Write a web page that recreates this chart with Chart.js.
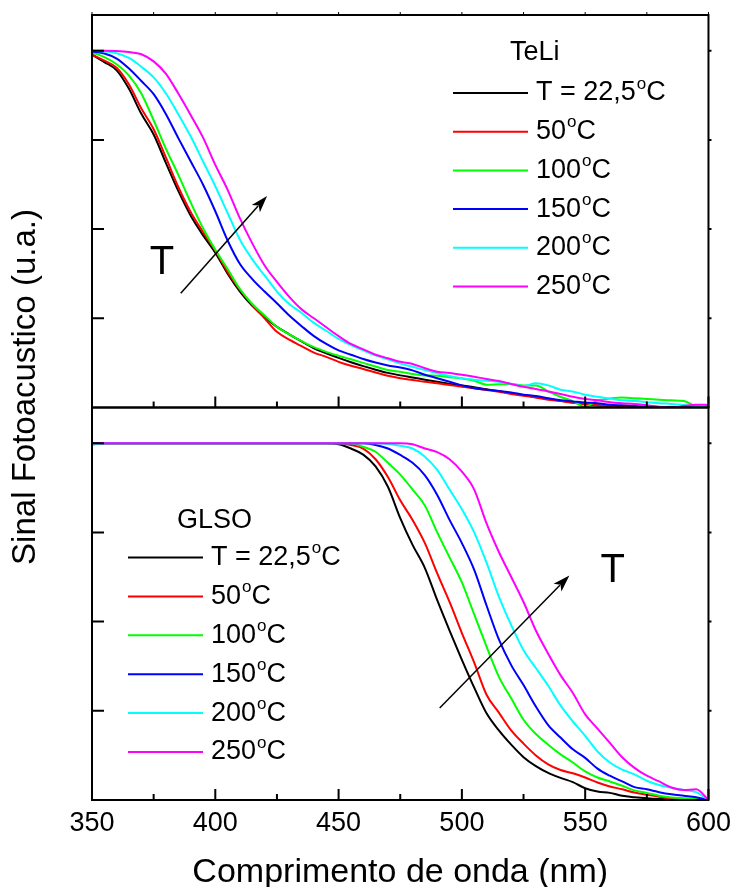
<!DOCTYPE html>
<html lang="pt">
<head>
  <meta charset="UTF-8">
  <title>Sinal Fotoacustico - TeLi / GLSO</title>
  <style>
    body {
      margin: 0;
      background: #ffffff;
    }
    #wrap {
      width: 738px;
      height: 887px;
    }
  </style>
</head>
<body>
  <div id="wrap"><canvas id="chart" width="738" height="887"></canvas></div>
  <script src="https://cdn.jsdelivr.net/npm/chart.js@4"></script>
  <script>
    // wavelength grid (nm)
    const wavelength = [
      350, 355, 360, 365, 370, 375, 380, 385, 390, 395,
      400, 405, 410, 415, 420, 425, 430, 435, 440, 445,
      450, 455, 460, 465, 470, 475, 480, 485, 490, 495,
      500, 505, 510, 515, 520, 525, 530, 535, 540, 545,
      550, 555, 560, 565, 570, 575, 580, 585, 590, 595, 600
    ];

    const tempLabels = ["T = 22,5", "50", "100", "150", "200", "250"];
    const lineColors = ["#000000", "#ff0000", "#00ff00", "#0000ff", "#00ffff", "#ff00ff"];

    // TeLi (top panel)
    const teli22 = [
      0.989, 0.968, 0.945, 0.893, 0.823, 0.765, 0.685, 0.607, 0.538, 0.483,
      0.434, 0.375, 0.325, 0.285, 0.253, 0.226, 0.205, 0.185, 0.166, 0.152,
      0.139, 0.127, 0.116, 0.106, 0.097, 0.090, 0.084, 0.078, 0.072, 0.066,
      0.062, 0.057, 0.051, 0.046, 0.040, 0.035, 0.029, 0.024, 0.019, 0.014,
      0.009, 0.006, 0.004, 0.002, 0.001, 0.001, 0, 0, 0, 0, 0
    ];
    const teli50 = [
      0.989, 0.972, 0.952, 0.905, 0.838, 0.780, 0.700, 0.618, 0.548, 0.492,
      0.440, 0.380, 0.330, 0.288, 0.250, 0.212, 0.190, 0.172, 0.154, 0.142,
      0.128, 0.117, 0.108, 0.098, 0.089, 0.082, 0.077, 0.072, 0.068, 0.063,
      0.058, 0.054, 0.049, 0.044, 0.038, 0.033, 0.028, 0.022, 0.018, 0.013,
      0.009, 0.006, 0.004, 0.003, 0.002, 0.002, 0.001, 0.001, 0, 0, 0.002
    ];
    const teli100 = [
      0.995, 0.982, 0.962, 0.930, 0.880, 0.805, 0.725, 0.652, 0.575, 0.503,
      0.442, 0.388, 0.332, 0.290, 0.258, 0.226, 0.205, 0.186, 0.169, 0.156,
      0.145, 0.135, 0.125, 0.115, 0.105, 0.100, 0.094, 0.090, 0.089, 0.085,
      0.081, 0.075, 0.064, 0.065, 0.066, 0.062, 0.062, 0.045, 0.030, 0.018,
      0.002, 0.020, 0.025, 0.028, 0.026, 0.024, 0.022, 0.020, 0.018, 0.004, 0.002
    ];
    const teli150 = [
      0.998, 0.992, 0.978, 0.950, 0.915, 0.878, 0.822, 0.755, 0.690, 0.625,
      0.550, 0.468, 0.402, 0.360, 0.325, 0.292, 0.258, 0.228, 0.200, 0.178,
      0.160, 0.148, 0.136, 0.126, 0.118, 0.112, 0.104, 0.092, 0.082, 0.072,
      0.062, 0.054, 0.050, 0.046, 0.042, 0.036, 0.032, 0.026, 0.020, 0.017,
      0.014, 0.012, 0.008, 0.006, 0.004, 0.002, 0, 0, 0, 0, 0.002
    ];
    const teli200 = [
      1.000, 0.998, 0.993, 0.980, 0.955, 0.925, 0.880, 0.822, 0.760, 0.690,
      0.620, 0.545, 0.470, 0.415, 0.370, 0.325, 0.290, 0.265, 0.237, 0.215,
      0.192, 0.175, 0.160, 0.146, 0.135, 0.123, 0.114, 0.105, 0.096, 0.088,
      0.082, 0.078, 0.075, 0.072, 0.066, 0.060, 0.068, 0.062, 0.050, 0.045,
      0.036, 0.030, 0.025, 0.020, 0.018, 0.015, 0.012, 0.010, 0.007, 0.003, 0.002
    ];
    const teli250 = [
      1.000, 1.000, 0.999, 0.996, 0.990, 0.970, 0.935, 0.880, 0.820, 0.757,
      0.680, 0.610, 0.530, 0.460, 0.398, 0.352, 0.310, 0.275, 0.250, 0.225,
      0.200, 0.178, 0.163, 0.148, 0.138, 0.128, 0.122, 0.110, 0.100, 0.097,
      0.092, 0.086, 0.080, 0.074, 0.066, 0.058, 0.052, 0.045, 0.038, 0.030,
      0.024, 0.020, 0.015, 0.012, 0.010, 0.006, 0.002, 0, 0.004, 0.008, 0.007
    ];

    // GLSO (bottom panel)
    const glso22 = [
      1, 1, 1, 1, 1, 1, 1, 1, 1, 1,
      1, 1, 1, 1, 1, 1, 1, 1, 1, 1,
      0.997, 0.985, 0.968, 0.935, 0.878, 0.790, 0.715, 0.650, 0.560, 0.475,
      0.393, 0.315, 0.243, 0.195, 0.155, 0.120, 0.095, 0.076, 0.062, 0.050,
      0.033, 0.024, 0.020, 0.012, 0.008, 0.005, 0.003, 0.002, 0.001, 0, 0
    ];
    const glso50 = [
      1, 1, 1, 1, 1, 1, 1, 1, 1, 1,
      1, 1, 1, 1, 1, 1, 1, 1, 1, 1,
      1, 0.995, 0.985, 0.955, 0.905, 0.840, 0.785, 0.720, 0.635, 0.555,
      0.468, 0.385, 0.295, 0.245, 0.195, 0.158, 0.125, 0.100, 0.084, 0.075,
      0.063, 0.049, 0.038, 0.030, 0.021, 0.015, 0.009, 0.005, 0.003, 0.001, 0
    ];
    const glso100 = [
      1, 1, 1, 1, 1, 1, 1, 1, 1, 1,
      1, 1, 1, 1, 1, 1, 1, 1, 1, 1,
      1, 1, 0.990, 0.976, 0.945, 0.912, 0.870, 0.825, 0.750, 0.680,
      0.610, 0.520, 0.430, 0.345, 0.285, 0.225, 0.185, 0.155, 0.128, 0.105,
      0.080, 0.063, 0.052, 0.040, 0.027, 0.020, 0.012, 0.007, 0.005, 0.003, 0
    ];
    const glso150 = [
      1, 1, 1, 1, 1, 1, 1, 1, 1, 1,
      1, 1, 1, 1, 1, 1, 1, 1, 1, 1,
      1, 1, 1, 0.995, 0.985, 0.967, 0.945, 0.910, 0.855, 0.785,
      0.720, 0.645, 0.545, 0.450, 0.378, 0.322, 0.262, 0.210, 0.175, 0.142,
      0.118, 0.088, 0.068, 0.052, 0.036, 0.030, 0.022, 0.016, 0.012, 0.008, 0
    ];
    const glso200 = [
      0.995, 1, 1, 1, 1, 1, 1, 1, 1, 1,
      1, 1, 1, 1, 1, 1, 1, 1, 1, 1,
      1, 1, 1, 1, 0.998, 0.993, 0.985, 0.962, 0.925, 0.870,
      0.815, 0.750, 0.665, 0.570, 0.490, 0.420, 0.370, 0.320, 0.265, 0.220,
      0.180, 0.136, 0.105, 0.085, 0.072, 0.054, 0.042, 0.034, 0.028, 0.022, 0
    ];
    const glso250 = [
      1, 1, 1, 1, 1, 1, 1, 1, 1, 1,
      1, 1, 1, 1, 1, 1, 1, 1, 1, 1,
      1, 1, 1, 1, 1, 1, 0.997, 0.985, 0.975, 0.955,
      0.920, 0.870, 0.775, 0.695, 0.625, 0.555, 0.475, 0.410, 0.350, 0.300,
      0.240, 0.200, 0.160, 0.120, 0.090, 0.068, 0.052, 0.035, 0.028, 0.030, 0
    ];

    const teliSeries = [teli22, teli50, teli100, teli150, teli200, teli250];
    const glsoSeries = [glso22, glso50, glso100, glso150, glso200, glso250];

    // arrows and "T" marks, in data units (nm, signal)
    const notes = {
      yTop: { arrow: [386, 0.32, 421, 0.593], text: [378.4, 0.404] },
      yBot: { arrow: [491, 0.258, 543.6, 0.629], text: [561.2, 0.641] }
    };

    const fontFamily = "'Liberation Sans', Arial, sans-serif";
    Chart.defaults.font.family = fontFamily;
    Chart.defaults.color = "#000";

    function makeSets(series, axisId) {
      return series.map((vals, i) => ({
        label: tempLabels[i],
        data: wavelength.map((w, k) => ({ x: w, y: vals[k] })),
        yAxisID: axisId,
        borderColor: lineColors[i],
        backgroundColor: lineColors[i],
        borderWidth: 2,
        pointRadius: 0,
        cubicInterpolationMode: "monotone",
        order: series.length - i
      }));
    }

    function drawArrow(ctx, x1, y1, x2, y2) {
      const ang = Math.atan2(y2 - y1, x2 - x1);
      const head = 17, half = 5.5;
      ctx.beginPath();
      ctx.moveTo(x1, y1);
      ctx.lineTo(x2 - Math.cos(ang) * head * 0.8, y2 - Math.sin(ang) * head * 0.8);
      ctx.stroke();
      ctx.beginPath();
      ctx.moveTo(x2, y2);
      ctx.lineTo(x2 - Math.cos(ang) * head - Math.sin(ang) * half, y2 - Math.sin(ang) * head + Math.cos(ang) * half);
      ctx.lineTo(x2 - Math.cos(ang) * head * 0.75, y2 - Math.sin(ang) * head * 0.75);
      ctx.lineTo(x2 - Math.cos(ang) * head + Math.sin(ang) * half, y2 - Math.sin(ang) * head - Math.cos(ang) * half);
      ctx.closePath();
      ctx.fill();
    }

    function drawLegend(ctx, title, titleX, titleY, lineX, firstY, dy) {
      ctx.font = "27px " + fontFamily;
      ctx.textBaseline = "middle";
      ctx.textAlign = "left";
      ctx.fillText(title, titleX, titleY);
      tempLabels.forEach((lab, i) => {
        const y = firstY + i * dy;
        ctx.strokeStyle = lineColors[i];
        ctx.lineWidth = 2;
        ctx.beginPath();
        ctx.moveTo(lineX, y);
        ctx.lineTo(lineX + 75, y);
        ctx.stroke();
        let tx = lineX + 83;
        ctx.font = "27px " + fontFamily;
        ctx.fillText(lab, tx, y);
        tx += ctx.measureText(lab).width + 1;
        ctx.font = "17px " + fontFamily;
        ctx.fillText("o", tx, y - 9);
        tx += ctx.measureText("o").width;
        ctx.font = "27px " + fontFamily;
        ctx.fillText("C", tx, y);
      });
    }

    const panelDeco = {
      id: "panelDeco",
      afterDatasetsDraw(chart) {
        const { ctx, scales } = chart;
        const x = scales.x;
        const panels = [scales.yTop, scales.yBot];
        ctx.save();
        ctx.fillStyle = "#000";
        ctx.strokeStyle = "#000";
        ctx.lineWidth = 2;

        // frames
        panels.forEach(ys => {
          ctx.strokeRect(x.left, ys.top, x.right - x.left, ys.bottom - ys.top);
        });

        // x ticks (major + minor) pointing inward on each panel bottom
        const majors = x.ticks.map(t => t.value);
        const minors = majors.slice(0, -1).map(v => v + 25);
        panels.forEach(ys => {
          ctx.beginPath();
          majors.forEach(v => {
            const px = x.getPixelForValue(v);
            ctx.moveTo(px, ys.bottom);
            ctx.lineTo(px, ys.bottom - 11);
          });
          minors.forEach(v => {
            const px = x.getPixelForValue(v);
            ctx.moveTo(px, ys.bottom);
            ctx.lineTo(px, ys.bottom - 6);
          });
          ctx.stroke();
        });
        // short outer ticks on the top edge
        ctx.lineWidth = 1;
        ctx.beginPath();
        majors.concat(minors).forEach(v => {
          const px = x.getPixelForValue(v);
          ctx.moveTo(px, scales.yTop.top);
          ctx.lineTo(px, scales.yTop.top - 3);
        });
        ctx.stroke();

        // y ticks: inward on the left, short outward on the right
        ctx.lineWidth = 2;
        panels.forEach(ys => {
          ctx.beginPath();
          ys.ticks.filter(t => t.value > 0 && t.value <= 1.0001).forEach(t => {
            const py = ys.getPixelForValue(t.value);
            ctx.moveTo(x.left, py);
            ctx.lineTo(x.left + 12, py);
            ctx.moveTo(x.right, py);
            ctx.lineTo(x.right + 3, py);
          });
          ctx.stroke();
        });

        // arrows and T labels
        ctx.lineWidth = 1.5;
        Object.keys(notes).forEach(id => {
          const ys = scales[id];
          const a = notes[id].arrow;
          drawArrow(ctx, x.getPixelForValue(a[0]), ys.getPixelForValue(a[1]),
            x.getPixelForValue(a[2]), ys.getPixelForValue(a[3]));
          const t = notes[id].text;
          ctx.font = "40px " + fontFamily;
          ctx.textAlign = "center";
          ctx.textBaseline = "middle";
          ctx.fillText("T", x.getPixelForValue(t[0]), ys.getPixelForValue(t[1]));
        });

        // legends
        const top = scales.yTop, bot = scales.yBot;
        drawLegend(ctx, "TeLi", x.left + 418, top.top + 38, x.left + 361, top.top + 78, 38.7);
        drawLegend(ctx, "GLSO", x.left + 85, bot.top + 113, x.left + 36, bot.top + 150, 38.9);

        // shared y title
        ctx.fillStyle = "#000";
        ctx.font = "33px " + fontFamily;
        ctx.textAlign = "center";
        ctx.textBaseline = "middle";
        ctx.translate(26, 387);
        ctx.rotate(-Math.PI / 2);
        ctx.fillText("Sinal Fotoacustico (u.a.)", 0, 0);
        ctx.restore();
      }
    };

    const yPanel = {
      position: "left",
      stack: "panels",
      stackWeight: 1,
      min: 0,
      max: 1.1,
      ticks: { display: false, stepSize: 0.25 },
      grid: { display: false, drawTicks: false },
      border: { display: false },
      afterFit: s => { s.width = 92; }
    };

    new Chart(document.getElementById("chart"), {
      type: "line",
      data: {
        datasets: makeSets(teliSeries, "yTop").concat(makeSets(glsoSeries, "yBot"))
      },
      options: {
        responsive: false,
        animation: false,
        layout: { padding: { left: 0, right: 25, top: 15, bottom: 0 } },
        plugins: {
          legend: { display: false },
          tooltip: { enabled: false }
        },
        scales: {
          x: {
            type: "linear",
            min: 350,
            max: 600,
            ticks: { stepSize: 50, color: "#000", font: { size: 27 }, padding: 7, maxRotation: 0 },
            grid: { display: false, drawTicks: false },
            border: { display: false },
            title: {
              display: true,
              text: "Comprimento de onda (nm)",
              color: "#000",
              font: { size: 34, lineHeight: 1 },
              padding: { top: 0, bottom: -3 }
            },
            afterFit: s => { s.height = 87; }
          },
          yBot: Object.assign({}, yPanel),
          yTop: Object.assign({}, yPanel)
        }
      },
      plugins: [panelDeco]
    });
  </script>
</body>
</html>
